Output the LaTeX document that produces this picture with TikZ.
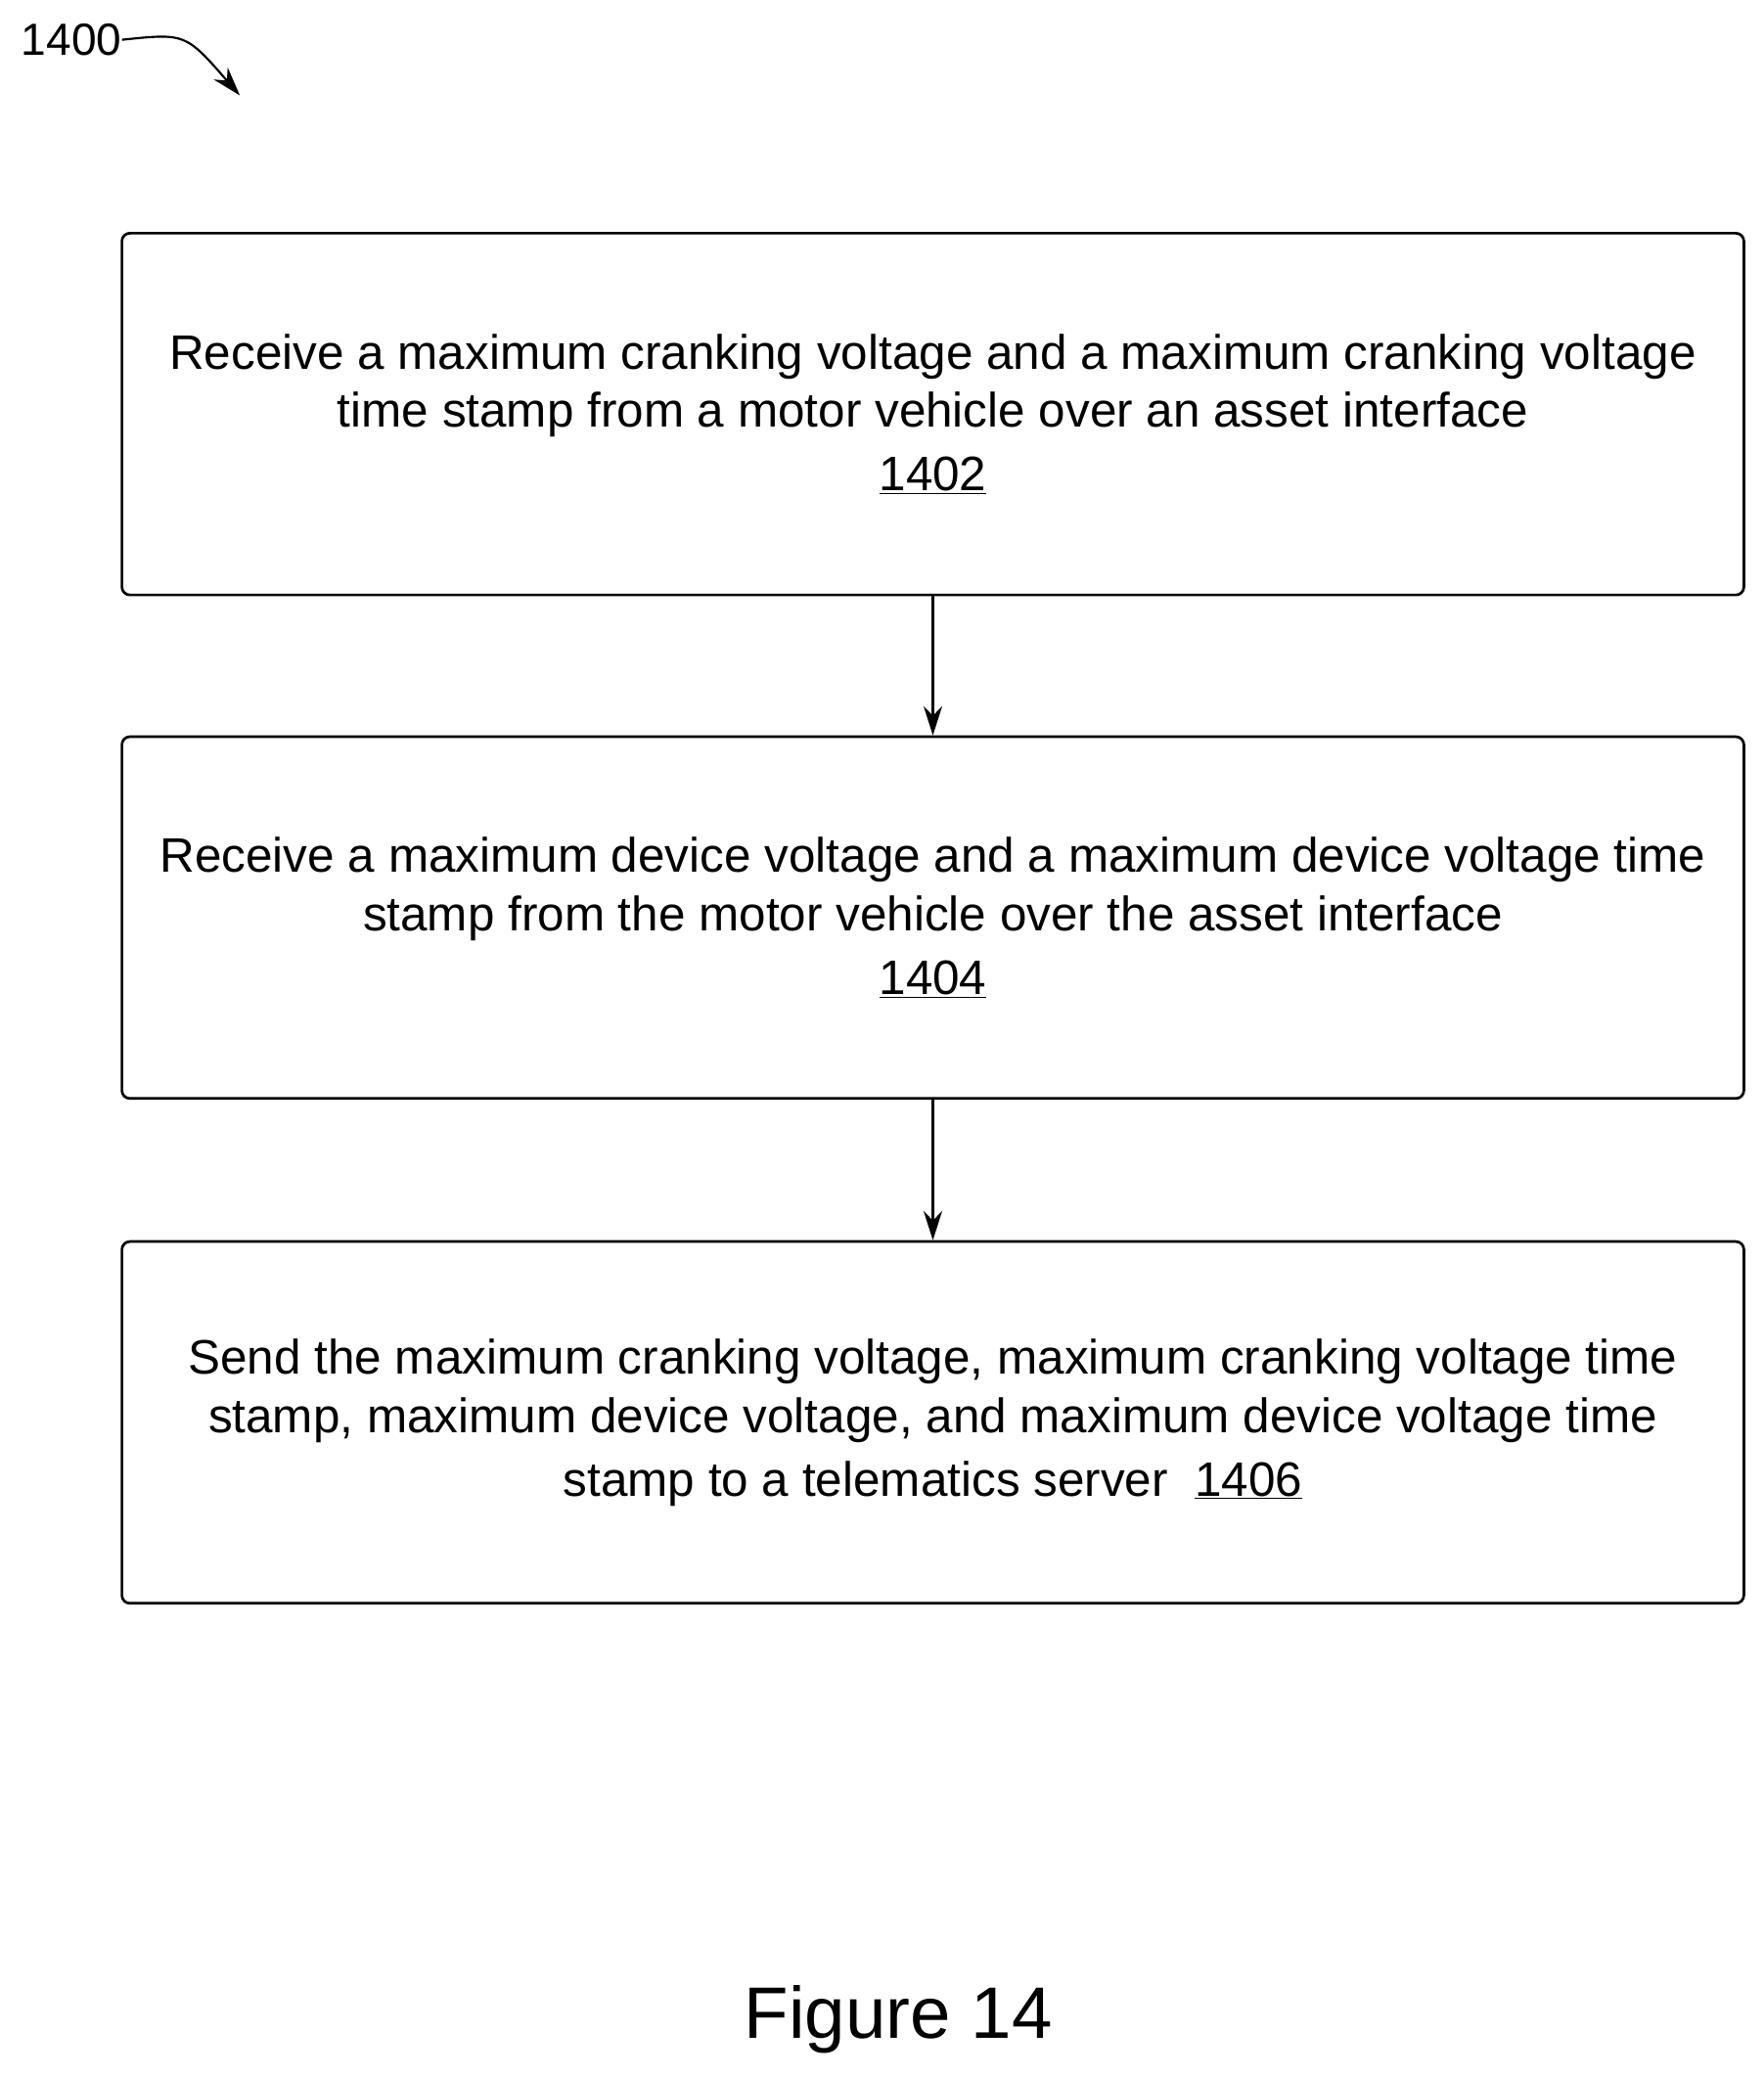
\documentclass[tikz,border=0pt]{standalone}
\usepackage{fontspec}
\setmainfont{Liberation Sans}
\usetikzlibrary{arrows.meta}
\tikzset{
	stepbox/.style={draw, rounded corners=6pt, line width=2pt, minimum width=1224pt, minimum height=273pt, align=center, inner sep=0pt, font=\fontsize{36.5}{44}\selectfont},
	flow/.style={-{Stealth[length=22pt,width=14pt]}, line width=2pt},
}
\begin{document}
\begin{tikzpicture}[x=1pt,y=-1pt]
		\useasboundingbox (0,0) rectangle (1331,1566);
		\node [stepbox] (s1402) at (704,312.5) {Receive a maximum cranking voltage and a maximum cranking voltage\\time stamp from a motor vehicle over an asset interface\\[4pt]\underline{1402}};
		\node [stepbox] (s1404) at (704,692.5) {Receive a maximum device voltage and a maximum device voltage time\\stamp from the motor vehicle over the asset interface\\[4pt]\underline{1404}};
		\node [stepbox] (s1406) at (704,1073.5) {Send the maximum cranking voltage, maximum cranking voltage time\\stamp, maximum device voltage, and maximum device voltage time\\[4pt]stamp to a telematics server\ \ \underline{1406}};
		\draw [flow] (s1402) -- (s1404);
		\draw [flow] (s1404) -- (s1406);
		\node [font=\fontsize{34}{40}\selectfont, inner sep=0pt] (lbl) at (54,30) {1400};
		\coordinate (tip) at (181,72);
		\draw [flow, line width=1.6pt] (lbl.east) .. controls (140,25) .. (tip);
		\node [font=\fontsize{55}{66}\selectfont] (fig) at (678,1524) {Figure 14};
\end{tikzpicture}
\end{document}
